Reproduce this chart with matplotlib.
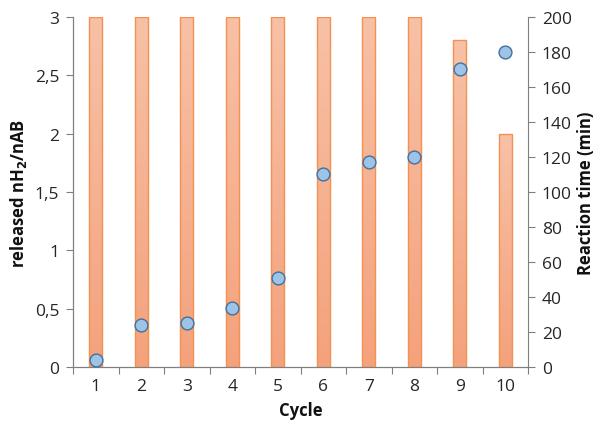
import numpy as np
import matplotlib
matplotlib.use("Agg")
import matplotlib.pyplot as plt
from matplotlib.ticker import FuncFormatter, FixedLocator
from matplotlib.colors import LinearSegmentedColormap

plt.rcParams['font.family'] = ['Open Sans', 'DejaVu Sans']

# data
cycles = [1, 2, 3, 4, 5, 6, 7, 8, 9, 10]
released_h2 = [3.0, 3.0, 3.0, 3.0, 3.0, 3.0, 3.0, 3.0, 2.8, 2.0]
reaction_time = [4, 24, 25, 34, 51, 110, 117, 120, 170, 180]

fig = plt.figure(figsize=(6.0, 4.27), dpi=100)
ax = fig.add_axes([0.1217, 0.138, 0.7583, 0.82])
ax2 = ax.twinx()

# bars with a vertical gradient, light at top
grad = LinearSegmentedColormap.from_list("bar", ["#F4A27C", "#F8C1A6"])
bars = ax.bar(cycles, released_h2, width=0.29, facecolor="none",
              edgecolor="#F39152", linewidth=1.0, zorder=3)
for b in bars:
    x0, y0 = b.get_x(), b.get_y()
    w, h = b.get_width(), b.get_height()
    img = np.linspace(0, 1, 100).reshape(-1, 1)
    im = ax.imshow(img, cmap=grad, origin="lower", aspect="auto",
                   extent=[x0, x0 + w, y0, y0 + h], zorder=2)
    im.set_clip_path(b)

ax.set_xlim(0.5, 10.5)
ax.set_ylim(0, 3)
ax2.set_ylim(0, 200)

ax2.scatter(cycles, reaction_time, s=85, facecolor="#9DC3E6",
            edgecolor="#41719C", linewidth=1.0, zorder=5)

tick_col = "#262626"
fs = 12.5

# x ticks: marks between categories, labels at centers
ax.xaxis.set_major_locator(FixedLocator(np.arange(0.5, 11, 1)))
ax.xaxis.set_minor_locator(FixedLocator(cycles))
ax.xaxis.set_major_formatter(FuncFormatter(lambda v, p: ""))
ax.xaxis.set_minor_formatter(FuncFormatter(lambda v, p: "%d" % v))
ax.tick_params(axis="x", which="major", length=5, color="#7F7F7F")
ax.tick_params(axis="x", which="minor", length=0, labelsize=fs, pad=8, colors=tick_col)

ax.set_yticks(np.arange(0, 3.01, 0.5))
ax.yaxis.set_major_formatter(FuncFormatter(lambda v, p: ("%g" % v).replace(".", ",")))
ax.tick_params(axis="y", length=5, color="#7F7F7F", labelsize=fs, labelcolor=tick_col, pad=5)
ax2.set_yticks(np.arange(0, 201, 20))
ax2.tick_params(axis="y", length=5, color="#7F7F7F", labelsize=fs, labelcolor=tick_col, pad=5)

for a in (ax, ax2):
    a.spines["top"].set_visible(False)
    for s in ("left", "right", "bottom"):
        a.spines[s].set_color("#7F7F7F")
ax.spines["right"].set_visible(False)

ax.set_xlabel("Cycle", fontsize=12, fontweight="bold", color="#111111", labelpad=5)
ax.set_ylabel(r"released nH$_\mathbf{2}$/nAB", fontsize=12, fontweight="bold",
              color="#111111", labelpad=4)
ax2.set_ylabel("Reaction time (min)", fontsize=12, fontweight="bold",
               color="#111111", labelpad=4)

fig.savefig("out.png", dpi=100)
